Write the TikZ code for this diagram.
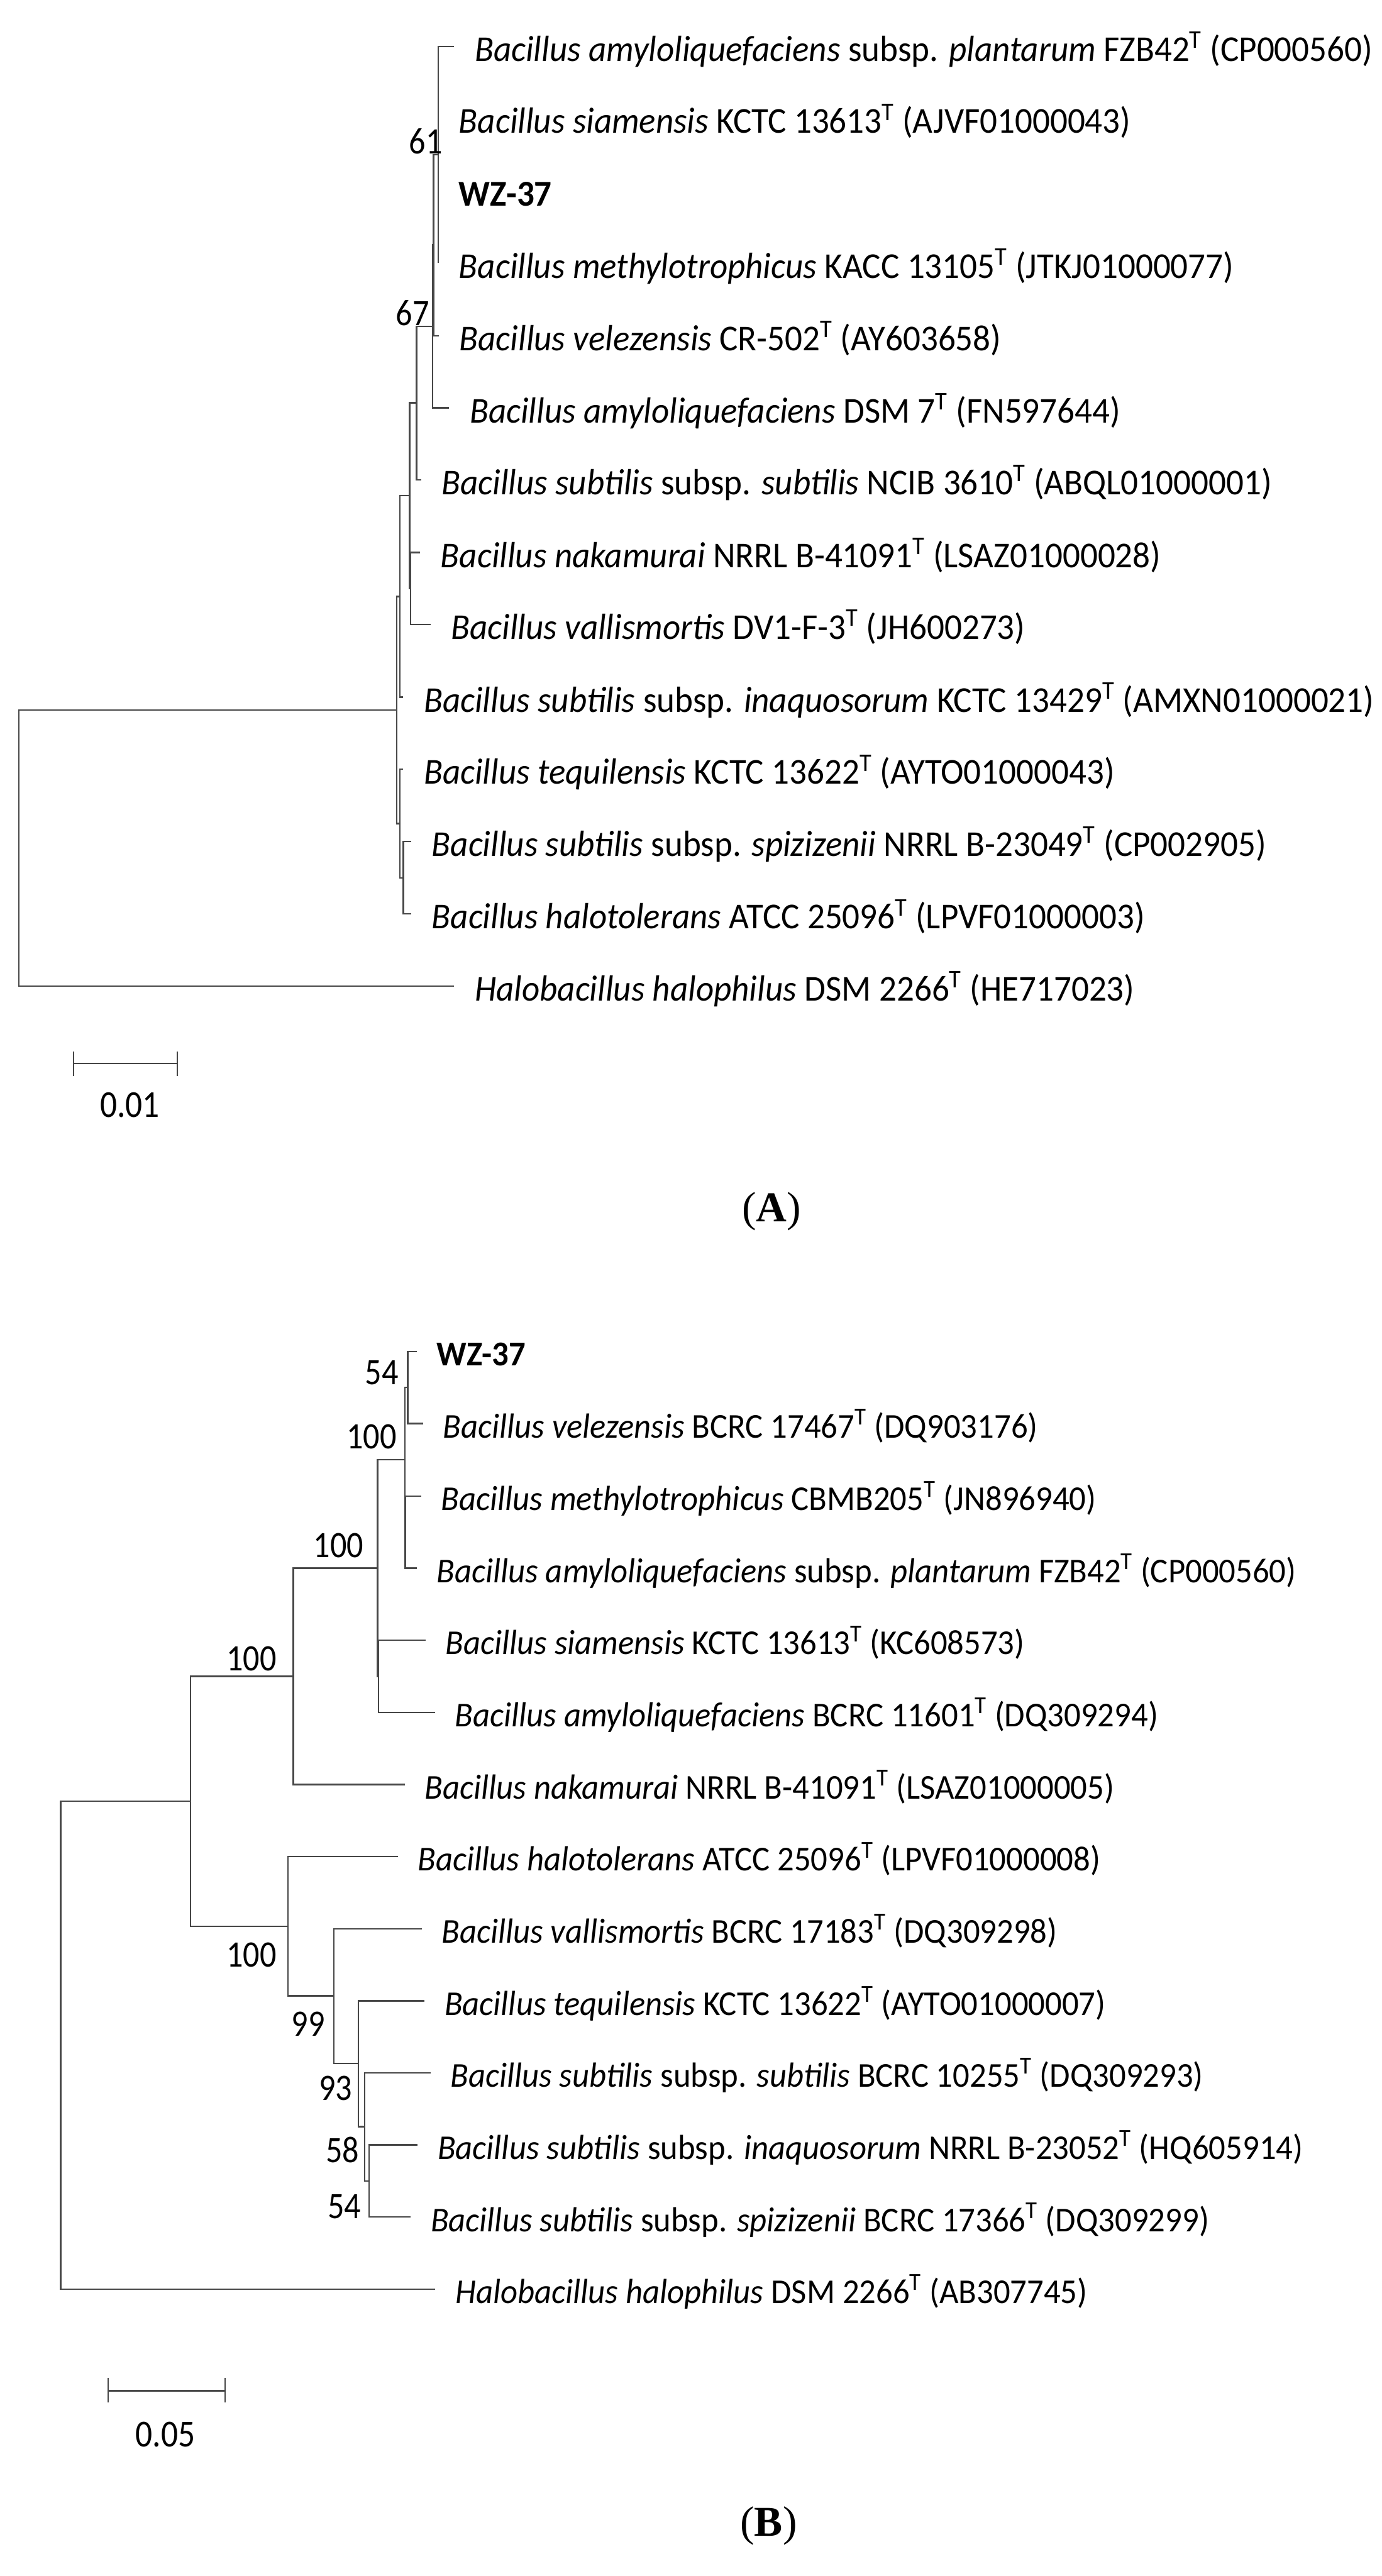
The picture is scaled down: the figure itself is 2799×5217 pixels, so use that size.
\documentclass[tikz,border=0pt]{standalone}
\usepackage{fontspec}
\setmainfont{Carlito}[FakeStretch=0.95]
\newfontfamily\numfont{Carlito}[FakeStretch=0.88]
\newfontfamily\panelfont{Liberation Serif}
\newcommand{\typ}{\textsuperscript{T}}

\begin{document}
\begin{tikzpicture}[x=0.1mm, y=-0.1mm,
		branch/.style={draw=black!72, line width=0.85pt},
		taxon/.style={anchor=west, inner xsep=4.1mm, inner ysep=0pt,
			text height=6mm, text depth=0pt, font=\fontsize{21}{25}\selectfont},
		taxonB/.style={taxon, inner xsep=4mm, text height=5.8mm,
			font=\fontsize{20.1}{24}\selectfont},
		boot/.style={anchor=south east, inner sep=0pt, text depth=0pt,
			font=\numfont\fontsize{21.5}{25}\selectfont},
		scalenum/.style={inner sep=0pt, font=\numfont\fontsize{22}{25}\selectfont},
		panel/.style={inner sep=0pt, font=\panelfont\fontsize{24.5}{28}\selectfont}]
	
	\useasboundingbox (0,0) rectangle (2799,5217);
	
	% ---------------- Arbre A ----------------
	% Points de branchement
	\coordinate (aRoot) at (38,1718);
	\coordinate (aU) at (804,1438);
	\coordinate (aV) at (810,1208);
	\coordinate (aZ) at (830,1004);
	\coordinate (aW) at (832,1192);
	\coordinate (aY) at (844,816);
	\coordinate (a67) at (876,661);
	\coordinate (aX) at (878,496);
	\coordinate (a61) at (888,313);
	\coordinate (aT) at (810,1668);
	\coordinate (aS) at (817,1778);
	
	% Feuilles
	\node[taxon] (tA1) at (920,94) {\textit{Bacillus amyloliquefaciens} subsp. \textit{plantarum} FZB42\typ{} (CP000560)};
	\node[taxon] (tA2) at (888,240) {\textit{Bacillus siamensis} KCTC 13613\typ{} (AJVF01000043)};
	\node[taxon] (tA3) at (888,387) {\textbf{WZ-37}};
	\node[taxon] (tA4) at (888,533) {\textit{Bacillus methylotrophicus} KACC 13105\typ{} (JTKJ01000077)};
	\node[taxon] (tA5) at (889,680) {\textit{Bacillus velezensis} CR-502\typ{} (AY603658)};
	\node[taxon] (tA6) at (910,826) {\textit{Bacillus amyloliquefaciens} DSM 7\typ{} (FN597644)};
	\node[taxon] (tA7) at (853,972) {\textit{Bacillus subtilis} subsp. \textit{subtilis} NCIB 3610\typ{} (ABQL01000001)};
	\node[taxon] (tA8) at (851,1119) {\textit{Bacillus nakamurai} NRRL B-41091\typ{} (LSAZ01000028)};
	\node[taxon] (tA9) at (872,1265) {\textit{Bacillus vallismortis} DV1-F-3\typ{} (JH600273)};
	\node[taxon] (tA10) at (817,1412) {\textit{Bacillus subtilis} subsp. \textit{inaquosorum} KCTC 13429\typ{} (AMXN01000021)};
	\node[taxon] (tA11) at (817,1558) {\textit{Bacillus tequilensis} KCTC 13622\typ{} (AYTO01000043)};
	\node[taxon] (tA12) at (833,1704) {\textit{Bacillus subtilis} subsp. \textit{spizizenii} NRRL B-23049\typ{} (CP002905)};
	\node[taxon] (tA13) at (833,1851) {\textit{Bacillus halotolerans} ATCC 25096\typ{} (LPVF01000003)};
	\node[taxon] (tA14) at (920,1997) {\textit{Halobacillus halophilus} DSM 2266\typ{} (HE717023)};
	
	% Branches
	\draw[branch] (aRoot) |- (aU);
	\draw[branch] (aRoot) |- (tA14.west);
	\draw[branch] (aU) |- (aV);
	\draw[branch] (aU) |- (aT);
	\draw[branch] (aV) |- (aZ);
	\draw[branch] (aV) |- (tA10.west);
	\draw[branch] (aZ) |- (aY);
	\draw[branch] (aZ) |- (aW);
	\draw[branch] (aW) |- (tA8.west);
	\draw[branch] (aW) |- (tA9.west);
	\draw[branch] (aY) |- (a67);
	\draw[branch] (aY) |- (tA7.west);
	\draw[branch] (a67) |- (aX);
	\draw[branch] (a67) |- (tA6.west);
	\draw[branch] (aX) |- (a61);
	\draw[branch] (aX) |- (tA5.west);
	\draw[branch] (a61) |- (tA1.west);
	\draw[branch] (a61) |- (tA2.west);
	\draw[branch] (a61) |- (tA3.west);
	\draw[branch] (a61) |- (tA4.west);
	\draw[branch] (aT) |- (tA11.west);
	\draw[branch] (aT) |- (aS);
	\draw[branch] (aS) |- (tA12.west);
	\draw[branch] (aS) |- (tA13.west);
	
	% Valeurs de bootstrap
	\node[boot] (bsA61) at (897,312) {61};
	\node[boot] (bsA67) at (870,660) {67};
	
	% Echelle
	\coordinate (sA1) at (149,2154);
	\coordinate (sA2) at (359,2154);
	\draw[branch] (sA1) -- (sA2);
	\draw[branch, line width=0.6pt] ([yshift=2.4mm]sA1) -- ([yshift=-2.5mm]sA1);
	\draw[branch, line width=0.6pt] ([yshift=2.4mm]sA2) -- ([yshift=-2.5mm]sA2);
	\node[scalenum] (numA) at (263,2238) {0.01};
	
	\node[panel] (labA) at (1563,2453) {(\textbf{A})};
	
	% ---------------- Arbre B ----------------
	% Points de branchement
	\coordinate (bRoot) at (123,4142);
	\coordinate (bBac) at (386,3648);
	\coordinate (b100c) at (594,3395);
	\coordinate (b100b) at (765,3176);
	\coordinate (b100a) at (820,2956);
	\coordinate (b54a) at (826,2810);
	\coordinate (bMP) at (821,3103);
	\coordinate (bSB) at (767,3395);
	\coordinate (bHal) at (583,3901);
	\coordinate (b99) at (676,4042);
	\coordinate (b93) at (726,4179);
	\coordinate (b58) at (739,4307);
	\coordinate (b54b) at (748,4417);
	
	% Feuilles
	\node[taxonB] (tB1) at (844,2737) {\textbf{WZ-37}};
	\node[taxonB] (tB2) at (857,2883) {\textit{Bacillus velezensis} BCRC 17467\typ{} (DQ903176)};
	\node[taxonB] (tB3) at (853,3030) {\textit{Bacillus methylotrophicus} CBMB205\typ{} (JN896940)};
	\node[taxonB] (tB4) at (844,3176) {\textit{Bacillus amyloliquefaciens} subsp. \textit{plantarum} FZB42\typ{} (CP000560)};
	\node[taxonB] (tB5) at (862,3322) {\textit{Bacillus siamensis} KCTC 13613\typ{} (KC608573)};
	\node[taxonB] (tB6) at (881,3468) {\textit{Bacillus amyloliquefaciens} BCRC 11601\typ{} (DQ309294)};
	\node[taxonB] (tB7) at (820,3614) {\textit{Bacillus nakamurai} NRRL B-41091\typ{} (LSAZ01000005)};
	\node[taxonB] (tB8) at (806,3760) {\textit{Bacillus halotolerans} ATCC 25096\typ{} (LPVF01000008)};
	\node[taxonB] (tB9) at (854,3906) {\textit{Bacillus vallismortis} BCRC 17183\typ{} (DQ309298)};
	\node[taxonB] (tB10) at (860,4052) {\textit{Bacillus tequilensis} KCTC 13622\typ{} (AYTO01000007)};
	\node[taxonB] (tB11) at (872,4198) {\textit{Bacillus subtilis} subsp. \textit{subtilis} BCRC 10255\typ{} (DQ309293)};
	\node[taxonB] (tB12) at (846,4344) {\textit{Bacillus subtilis} subsp. \textit{inaquosorum} NRRL B-23052\typ{} (HQ605914)};
	\node[taxonB] (tB13) at (832,4490) {\textit{Bacillus subtilis} subsp. \textit{spizizenii} BCRC 17366\typ{} (DQ309299)};
	\node[taxonB] (tB14) at (882,4636) {\textit{Halobacillus halophilus} DSM 2266\typ{} (AB307745)};
	
	% Branches
	\draw[branch] (bRoot) |- (bBac);
	\draw[branch] (bRoot) |- (tB14.west);
	\draw[branch] (bBac) |- (b100c);
	\draw[branch] (bBac) |- (bHal);
	\draw[branch] (b100c) |- (b100b);
	\draw[branch] (b100c) |- (tB7.west);
	\draw[branch] (b100b) |- (b100a);
	\draw[branch] (b100b) |- (bSB);
	\draw[branch] (b100a) |- (b54a);
	\draw[branch] (b100a) |- (bMP);
	\draw[branch] (b54a) |- (tB1.west);
	\draw[branch] (b54a) |- (tB2.west);
	\draw[branch] (bMP) |- (tB3.west);
	\draw[branch] (bMP) |- (tB4.west);
	\draw[branch] (bSB) |- (tB5.west);
	\draw[branch] (bSB) |- (tB6.west);
	\draw[branch] (bHal) |- (tB8.west);
	\draw[branch] (bHal) |- (b99);
	\draw[branch] (b99) |- (tB9.west);
	\draw[branch] (b99) |- (b93);
	\draw[branch] (b93) |- (tB10.west);
	\draw[branch] (b93) |- (b58);
	\draw[branch] (b58) |- (tB11.west);
	\draw[branch] (b58) |- (b54b);
	\draw[branch] (b54b) |- (tB12.west);
	\draw[branch] (b54b) |- (tB13.west);
	
	% Valeurs de bootstrap
	\node[boot] (bsB54a) at (808,2805) {54};
	\node[boot] (bsB100a) at (804,2935) {100};
	\node[boot] (bsB100b) at (737,3155) {100};
	\node[boot] (bsB100c) at (561,3384) {100};
	\node[boot] (bsB100d) at (561,3984) {100};
	\node[boot] (bsB99) at (659,4124) {99};
	\node[boot] (bsB93) at (714,4254) {93};
	\node[boot] (bsB58) at (728,4380) {58};
	\node[boot] (bsB54b) at (732,4493) {54};
	
	% Echelle
	\coordinate (sB1) at (219,4842);
	\coordinate (sB2) at (456,4842);
	\draw[branch] (sB1) -- (sB2);
	\draw[branch, line width=0.6pt] ([yshift=2.6mm]sB1) -- ([yshift=-2.4mm]sB1);
	\draw[branch, line width=0.6pt] ([yshift=2.6mm]sB2) -- ([yshift=-2.4mm]sB2);
	\node[scalenum] (numB) at (335,4930) {0.05};
	
	\node[panel] (labB) at (1557,5115) {(\textbf{B})};
	
\end{tikzpicture}
\end{document}
